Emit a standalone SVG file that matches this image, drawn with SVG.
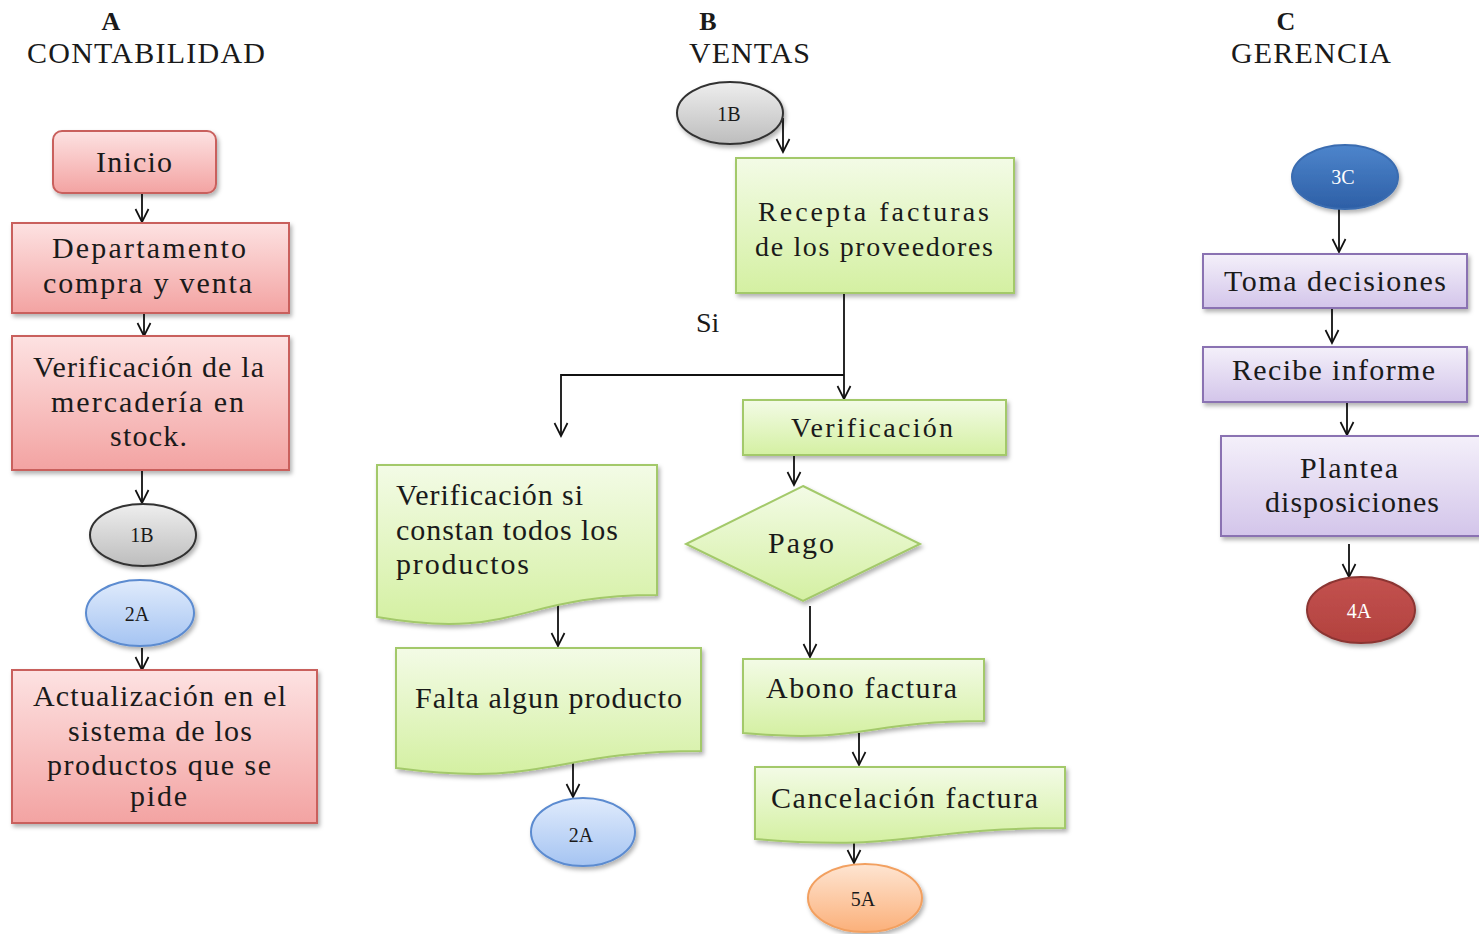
<svg xmlns="http://www.w3.org/2000/svg" width="1479" height="934" viewBox="0 0 1479 934">
<style>
text{font-family:"Liberation Serif","Times New Roman",serif;fill:#1a1a1a}
.h{font-size:30px}
.hb{font-size:26px;font-weight:bold;text-anchor:middle}
.t{font-size:30px}
.t2{font-size:28px}
.s{font-size:20px;text-anchor:middle}
.w{fill:#ffffff}
.red{fill:url(#gRed);stroke:#c9605d;stroke-width:2;filter:url(#sh)}
.grn{fill:url(#gGrn);stroke:#a3c96a;stroke-width:2;filter:url(#sh)}
.pur{fill:url(#gPur);stroke:#8a72b2;stroke-width:2;filter:url(#sh)}
.gry{fill:url(#gGry);stroke:#333333;stroke-width:2;filter:url(#sh)}
.blu{fill:url(#gBlu);stroke:#5b8bd0;stroke-width:2;filter:url(#sh)}
.org{fill:url(#gOrg);stroke:#f2a060;stroke-width:2;filter:url(#sh)}
.dbl{fill:url(#gDbl);stroke:#3a6cb0;stroke-width:2;filter:url(#sh)}
.drd{fill:url(#gDrd);stroke:#8b3533;stroke-width:2;filter:url(#sh)}
.c{fill:none;stroke:#111111;stroke-width:1.8;marker-end:url(#arr)}
</style>
<defs>
<linearGradient id="gRed" x1="0" y1="0" x2="0" y2="1"><stop offset="0" stop-color="#fde2e2"/><stop offset="1" stop-color="#f3a3a2"/></linearGradient>
<linearGradient id="gGrn" x1="0" y1="0" x2="0" y2="1"><stop offset="0" stop-color="#f3fbe6"/><stop offset="1" stop-color="#d4f0a2"/></linearGradient>
<linearGradient id="gPur" x1="0" y1="0" x2="0" y2="1"><stop offset="0" stop-color="#f4f0fa"/><stop offset="1" stop-color="#d3c5ea"/></linearGradient>
<linearGradient id="gGry" x1="0" y1="0" x2="0" y2="1"><stop offset="0" stop-color="#eeeeee"/><stop offset="1" stop-color="#bdbdbd"/></linearGradient>
<linearGradient id="gBlu" x1="0" y1="0" x2="0" y2="1"><stop offset="0" stop-color="#e0ebfc"/><stop offset="1" stop-color="#a5c4f2"/></linearGradient>
<linearGradient id="gOrg" x1="0" y1="0" x2="0" y2="1"><stop offset="0" stop-color="#fee5d2"/><stop offset="1" stop-color="#fbb07a"/></linearGradient>
<linearGradient id="gDbl" x1="0" y1="0" x2="0" y2="1"><stop offset="0" stop-color="#4d85cc"/><stop offset="1" stop-color="#2d5fa6"/></linearGradient>
<linearGradient id="gDrd" x1="0" y1="0" x2="0" y2="1"><stop offset="0" stop-color="#c3524f"/><stop offset="1" stop-color="#b2413e"/></linearGradient>
<filter id="sh" x="-10%" y="-10%" width="130%" height="140%"><feDropShadow dx="2" dy="3" stdDeviation="2" flood-color="#000000" flood-opacity="0.3"/></filter>
<marker id="arr" viewBox="0 0 14 14" refX="13" refY="7" markerWidth="14" markerHeight="14" markerUnits="userSpaceOnUse" orient="auto" overflow="visible">
<path d="M0,0.5 L13,7 L0,13.5" fill="none" stroke="#111111" stroke-width="1.7"/>
</marker>
</defs>

<g id="headers">
<text class="hb" x="111" y="30">A</text>
<text class="h" x="27" y="63" textLength="238">CONTABILIDAD</text>
<text class="hb" x="708" y="30">B</text>
<text class="h" x="689" y="63" textLength="121">VENTAS</text>
<text class="hb" x="1286" y="30">C</text>
<text class="h" x="1231" y="63" textLength="160">GERENCIA</text>
</g>

<g id="connectors">
<line class="c" x1="142" y1="193" x2="142" y2="222"/>
<line class="c" x1="144" y1="313" x2="144" y2="336"/>
<line class="c" x1="142" y1="470" x2="142" y2="503"/>
<line class="c" x1="142" y1="648" x2="142" y2="670"/>
<line class="c" x1="783" y1="118" x2="783" y2="152"/>
<line class="c" x1="844" y1="292" x2="844" y2="399"/>
<polyline class="c" points="844,375 561,375 561,436"/>
<line class="c" x1="794" y1="456" x2="794" y2="485"/>
<line class="c" x1="810" y1="606" x2="810" y2="657"/>
<line class="c" x1="558" y1="600" x2="558" y2="646"/>
<line class="c" x1="573" y1="762" x2="573" y2="797"/>
<line class="c" x1="859" y1="733" x2="859" y2="765"/>
<line class="c" x1="854" y1="838" x2="854" y2="863"/>
<line class="c" x1="1339" y1="209" x2="1339" y2="252"/>
<line class="c" x1="1332" y1="308" x2="1332" y2="343"/>
<line class="c" x1="1347" y1="402" x2="1347" y2="435"/>
<line class="c" x1="1349" y1="544" x2="1349" y2="577"/>
</g>

<g id="inicio">
<rect class="red" x="53" y="131" width="163" height="62" rx="9"/>
<text class="t" x="96" y="172" textLength="76">Inicio</text>
</g>
<g id="departamento">
<rect class="red" x="12" y="223" width="277" height="90"/>
<text class="t" x="52" y="258" textLength="194">Departamento</text>
<text class="t" x="43" y="293" textLength="209">compra y venta</text>
</g>
<g id="verificacion-stock">
<rect class="red" x="12" y="336" width="277" height="134"/>
<text class="t" x="33" y="377" textLength="231">Verificación de la</text>
<text class="t" x="51" y="412" textLength="193">mercadería en</text>
<text class="t" x="110" y="446" textLength="77">stock.</text>
</g>
<g id="conector-1B-a">
<ellipse class="gry" cx="143" cy="535" rx="53" ry="31"/>
<text class="s" x="142" y="542">1B</text>
</g>
<g id="conector-2A-a">
<ellipse class="blu" cx="140" cy="613" rx="54" ry="33"/>
<text class="s" x="137" y="621">2A</text>
</g>
<g id="actualizacion">
<rect class="red" x="12" y="670" width="305" height="153"/>
<text class="t" x="33" y="706" textLength="253">Actualización en el</text>
<text class="t" x="68" y="741" textLength="184">sistema de los</text>
<text class="t" x="47" y="775" textLength="224">productos que se</text>
<text class="t" x="130" y="806" textLength="57">pide</text>
</g>

<g id="conector-1B-b">
<ellipse class="gry" cx="730" cy="113" rx="53" ry="31"/>
<text class="s" x="729" y="121">1B</text>
</g>
<g id="recepta">
<rect class="grn" x="736" y="158" width="278" height="135"/>
<text class="t2" x="758" y="221" textLength="231">Recepta facturas</text>
<text class="t2" x="755" y="256" textLength="238">de los proveedores</text>
</g>
<g id="si-label">
<text class="t2" x="696" y="332">Si</text>
</g>
<g id="verificacion">
<rect class="grn" x="743" y="400" width="263" height="55"/>
<text class="t2" x="791" y="437" textLength="162">Verificación</text>
</g>
<g id="pago">
<polygon class="grn" points="803,486 920,544 803,601 686,544"/>
<text class="t" x="768" y="553" textLength="66">Pago</text>
</g>
<g id="verificacion-productos">
<path class="grn" d="M377,465 H657 V595 C517,595 517,641 377,617 Z"/>
<text class="t" x="396" y="505" textLength="187">Verificación si</text>
<text class="t" x="396" y="540" textLength="222">constan todos los</text>
<text class="t" x="396" y="574" textLength="133">productos</text>
</g>
<g id="falta-producto">
<path class="grn" d="M396,648 H701 V751 C549,751 549,788 396,768 Z"/>
<text class="t" x="415" y="708" textLength="267">Falta algun producto</text>
</g>
<g id="conector-2A-b">
<ellipse class="blu" cx="583" cy="832" rx="52" ry="34"/>
<text class="s" x="581" y="842">2A</text>
</g>
<g id="abono">
<path class="grn" d="M743,659 H984 V721 C864,721 864,744 743,733 Z"/>
<text class="t" x="766" y="698" textLength="191">Abono factura</text>
</g>
<g id="cancelacion">
<path class="grn" d="M755,767 H1065 V828 C910,828 910,852 755,839 Z"/>
<text class="t" x="771" y="808" textLength="267">Cancelación factura</text>
</g>
<g id="conector-5A">
<ellipse class="org" cx="865" cy="898" rx="57" ry="34"/>
<text class="s" x="863" y="906">5A</text>
</g>

<g id="conector-3C">
<ellipse class="dbl" cx="1345" cy="177" rx="53" ry="32"/>
<text class="s w" x="1343" y="184">3C</text>
</g>
<g id="toma-decisiones">
<rect class="pur" x="1203" y="254" width="264" height="54"/>
<text class="t" x="1224" y="291" textLength="222">Toma decisiones</text>
</g>
<g id="recibe-informe">
<rect class="pur" x="1203" y="347" width="264" height="55"/>
<text class="t" x="1232" y="380" textLength="203">Recibe informe</text>
</g>
<g id="plantea">
<rect class="pur" x="1221" y="436" width="262" height="100"/>
<text class="t" x="1300" y="478" textLength="98">Plantea</text>
<text class="t" x="1265" y="512" textLength="174">disposiciones</text>
</g>
<g id="conector-4A">
<ellipse class="drd" cx="1361" cy="610" rx="54" ry="33"/>
<text class="s w" x="1359" y="618">4A</text>
</g>
</svg>
